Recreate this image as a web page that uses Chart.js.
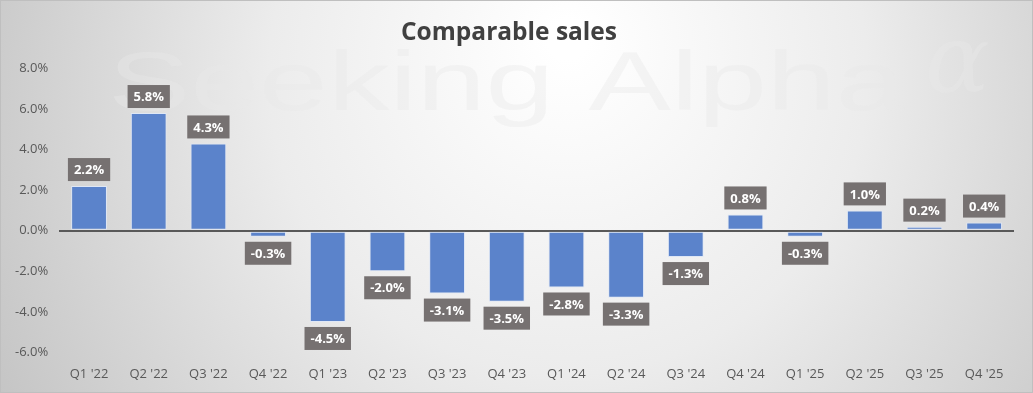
<!DOCTYPE html>
<html lang="en">
<head>
    <meta charset="UTF-8">
    <title>Comparable sales</title>
    <style>
        html, body {
            margin: 0;
            padding: 0;
            background: #ffffff;
        }
        .chart-box {
            width: 1033px;
            height: 393px;
            position: relative;
        }
    </style>
</head>
<body>
    <div class="chart-box">
        <canvas id="salesChart"></canvas>
    </div>
    <script src="https://cdn.jsdelivr.net/npm/chart.js"></script>
    <script>
        const quarters = ["Q1 '22", "Q2 '22", "Q3 '22", "Q4 '22", "Q1 '23", "Q2 '23", "Q3 '23", "Q4 '23",
                          "Q1 '24", "Q2 '24", "Q3 '24", "Q4 '24", "Q1 '25", "Q2 '25", "Q3 '25", "Q4 '25"];
        const compSales = [2.2, 5.8, 4.3, -0.3, -4.5, -2.0, -3.1, -3.5, -2.8, -3.3, -1.3, 0.8, -0.3, 1.0, 0.2, 0.4];
        const yTicks = [-6, -4, -2, 0, 2, 4, 6, 8];

        const fontFamily = "'Open Sans', 'Noto Sans', sans-serif";

        // gray radial background + faint watermark
        const backdrop = {
            id: 'backdrop',
            beforeDraw(chart) {
                const { ctx, width, height } = chart;
                ctx.save();
                const g = ctx.createRadialGradient(width * 0.55, height * 0.1, 20, width * 0.55, height * 0.3, width * 0.62);
                g.addColorStop(0, '#ffffff');
                g.addColorStop(0.45, '#ececec');
                g.addColorStop(1, '#c4c4c4');
                ctx.fillStyle = g;
                ctx.fillRect(0, 0, width, height);
                ctx.strokeStyle = '#bfbfbf';
                ctx.lineWidth = 1;
                ctx.strokeRect(0.5, 0.5, width - 1, height - 1);

                // watermark, stretched sideways
                ctx.fillStyle = 'rgba(232,232,232,0.4)';
                ctx.textAlign = 'left';
                ctx.textBaseline = 'alphabetic';
                ctx.save();
                ctx.translate(108, 110);
                ctx.scale(1.47, 1);
                ctx.font = "84px 'Liberation Sans', Arial, sans-serif";
                ctx.fillText('Seeking Alpha', 0, 0);
                ctx.restore();
                ctx.font = "italic 96px 'DejaVu Serif', serif";
                ctx.fillText('\u03b1', 925, 92);
                ctx.restore();
            }
        };

        // grey boxed value labels
        const valueBoxes = {
            id: 'valueBoxes',
            afterDatasetsDraw(chart) {
                const { ctx } = chart;
                const meta = chart.getDatasetMeta(0);
                ctx.save();
                ctx.font = "bold 13px " + fontFamily;
                ctx.textAlign = 'center';
                ctx.textBaseline = 'middle';
                meta.data.forEach((bar, i) => {
                    const v = compSales[i];
                    const txt = v.toFixed(1) + '%';
                    const w = ctx.measureText(txt).width + 12;
                    const h = 23;
                    const gap = 5;
                    const cy = v >= 0 ? bar.y - gap - h / 2 : bar.y + gap + h / 2;
                    ctx.fillStyle = '#767171';
                    ctx.fillRect(bar.x - w / 2, cy - h / 2, w, h);
                    ctx.fillStyle = '#ffffff';
                    ctx.fillText(txt, bar.x, cy + 1);
                });
                ctx.restore();
            }
        };

        const ctx = document.getElementById('salesChart').getContext('2d');
        new Chart(ctx, {
            type: 'bar',
            data: {
                labels: quarters,
                datasets: [{
                    data: compSales,
                    backgroundColor: '#5b83cb',
                    borderColor: '#dfe7f5',
                    borderWidth: 1,
                    borderSkipped: false,
                    categoryPercentage: 1,
                    barPercentage: 0.6
                }]
            },
            options: {
                responsive: true,
                maintainAspectRatio: false,
                animation: false,
                layout: { padding: { left: 4, right: 19, top: 4, bottom: -3 } },
                plugins: {
                    legend: { display: false },
                    tooltip: { enabled: false },
                    title: {
                        display: true,
                        text: 'Comparable sales',
                        color: '#404040',
                        font: { family: fontFamily, size: 24.5, weight: 'bold' },
                        padding: { top: 14, bottom: 21 }
                    }
                },
                scales: {
                    x: {
                        grid: { display: false, drawTicks: false },
                        border: { display: false },
                        ticks: {
                            color: '#595959',
                            font: { family: fontFamily, size: 13 },
                            padding: 14
                        }
                    },
                    y: {
                        min: -6,
                        max: 8,
                        afterBuildTicks(axis) {
                            axis.ticks = yTicks.map(v => ({ value: v }));
                        },
                        grid: {
                            drawTicks: false,
                            color: c => c.tick && c.tick.value === 0 ? '#595959' : 'rgba(0,0,0,0)',
                            lineWidth: c => c.tick && c.tick.value === 0 ? 2 : 0
                        },
                        border: { display: false },
                        ticks: {
                            color: '#595959',
                            font: { family: fontFamily, size: 13 },
                            padding: 11,
                            callback: v => v.toFixed(1) + '%'
                        }
                    }
                }
            },
            plugins: [backdrop, valueBoxes]
        });
    </script>
</body>
</html>
